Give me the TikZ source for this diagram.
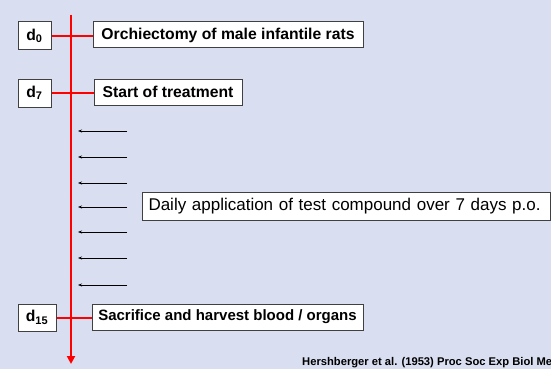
\documentclass[tikz,border=0pt]{standalone}
\usepackage{fontspec}
\setmainfont{Liberation Sans}
\usetikzlibrary{arrows.meta}
\definecolor{bgcol}{RGB}{217,222,240}
\definecolor{boxline}{RGB}{64,64,64}
\definecolor{tlred}{RGB}{255,0,0}
\begin{document}
\begin{tikzpicture}[x=1pt,y=-1pt,
  daybox/.style={draw=boxline,line width=1pt,fill=white,inner sep=0pt,
    font=\fontsize{15.7}{18}\selectfont\bfseries},
  eventbox/.style={draw=boxline,line width=1pt,fill=white,inner sep=0pt,
    font=\fontsize{15.7}{18}\selectfont\bfseries},
  redline/.style={draw=tlred,line width=2pt},
  dosearrow/.style={draw=black,line width=0.8pt,-{Stealth[length=4pt,width=3pt]}}]
\useasboundingbox (0,0) rectangle (551,369);
\fill[bgcol] (0,0) rectangle (551,369);
\begin{scope}
\clip (0,0) rectangle (551,369);
% timeline
\coordinate (ttop) at (71,15);
\coordinate (tbot) at (71,364);
\draw[redline,-{Triangle[length=8pt,width=8pt]}] (ttop) -- (tbot);
% boxes
\node[daybox,minimum width=33pt,minimum height=28pt] (d0) at (34.5,36) {d\textsubscript{0}};
\node[eventbox,minimum width=270pt,minimum height=26pt] (e0) at (228,35) {Orchiectomy of male infantile rats};
\node[daybox,minimum width=33pt,minimum height=28pt] (d7) at (34.5,93) {d\textsubscript{7}};
\node[eventbox,minimum width=148pt,minimum height=26pt] (e7) at (168,92) {Start of treatment};
\node[daybox,minimum width=38pt,minimum height=27pt] (d15) at (37,317.5) {d\textsubscript{15}};
\node[eventbox,font=\fontsize{15}{18}\selectfont\bfseries,minimum width=271pt,minimum height=26pt] (e15) at (227.5,317) {Sacrifice and harvest blood / organs};
\node[draw=boxline,line width=1pt,fill=white,anchor=west,minimum height=28pt,
  text width=396pt,inner xsep=6pt,inner ysep=0pt,align=left,
  font=\fontsize{17}{20}\selectfont] (daily) at (142,206) {Daily application of test compound over 7 days p.o.};
% connectors
\draw[redline] (d0.east) -- (d0.east -| e0.west);
\draw[redline] (d7.east) -- (d7.east -| e7.west);
\draw[redline] (d15.east) -- (d15.east -| e15.west);
% dosing arrows
\foreach \i/\y in {1/131,2/157,3/183,4/207,5/232,6/258,7/285}{
  \coordinate (s\i) at (127,\y);
  \coordinate (h\i) at (78,\y);
  \draw[dosearrow] (s\i) -- (h\i);
}
% citation
\node[anchor=west,inner sep=0pt,font=\fontsize{11.2}{12}\selectfont\bfseries] (cite) at (302,363) {Hershberger et al. (1953) Proc Soc Exp Biol Med};
\end{scope}
\end{tikzpicture}
\end{document}
